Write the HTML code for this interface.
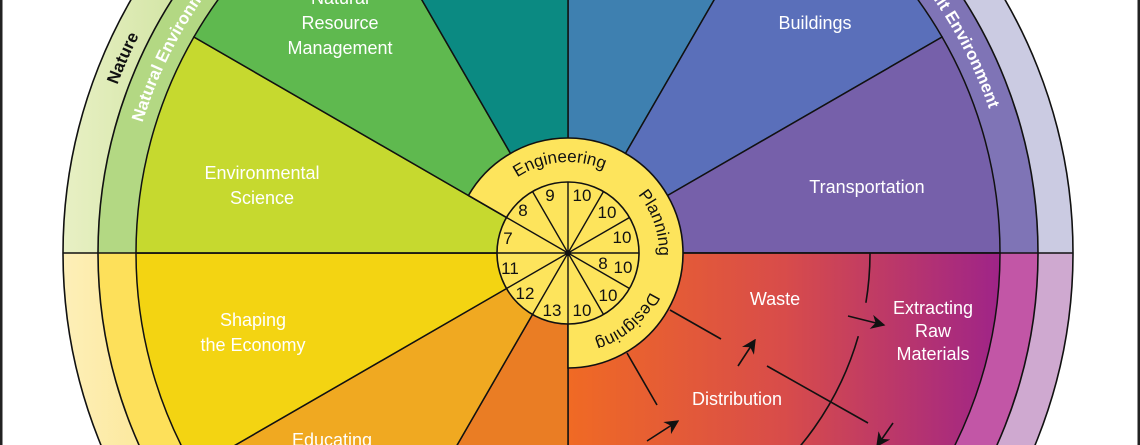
<!DOCTYPE html>
<html><head><meta charset="utf-8"><style>
html,body{margin:0;padding:0;background:#fff;width:1140px;height:445px;overflow:hidden;}
svg{display:block;}
.lbl{font-family:"Liberation Sans",Arial,sans-serif;font-size:18px;fill:#fff;text-anchor:middle;}
.num{font-family:"Liberation Sans",Arial,sans-serif;font-size:17px;fill:#111;text-anchor:middle;}
.cur{font-family:"Liberation Sans",Arial,sans-serif;font-size:17px;fill:#111;}
.ring{font-family:"Liberation Sans",Arial,sans-serif;font-size:17px;font-weight:bold;}
</style></head><body>
<svg width="1140" height="445" viewBox="0 0 1140 445" xmlns="http://www.w3.org/2000/svg">
<defs>
<linearGradient id="lr" x1="568" y1="0" x2="1000" y2="0" gradientUnits="userSpaceOnUse">
<stop offset="0" stop-color="#f06a24"/><stop offset="0.5" stop-color="#d84c4a"/><stop offset="1" stop-color="#9f2488"/>
</linearGradient>
<linearGradient id="r3ul" x1="63" y1="0" x2="200" y2="0" gradientUnits="userSpaceOnUse">
<stop offset="0" stop-color="#e8f0c4"/><stop offset="1" stop-color="#cfe3a0"/>
</linearGradient>
<linearGradient id="r3ll" x1="63" y1="0" x2="200" y2="0" gradientUnits="userSpaceOnUse">
<stop offset="0" stop-color="#fdefb8"/><stop offset="1" stop-color="#fce48a"/>
</linearGradient>
<marker id="ah" viewBox="0 0 10 10" refX="9" refY="5" markerWidth="9" markerHeight="9" orient="auto" markerUnits="strokeWidth">
<path d="M0,0 L10,5 L0,10 L3,5 Z" fill="#111"/>
</marker>
<path id="p445" d="M568,698 A445,445 0 0 1 568,-192 A445,445 0 0 1 568,698"/>
<path id="p481" d="M568,734 A481,481 0 0 1 568,-228 A481,481 0 0 1 568,734"/>
<path id="p91" d="M568,344 A91,91 0 0 1 568,162 A91,91 0 0 1 568,344"/>
</defs>
<rect width="1140" height="445" fill="#fff"/>
<path d="M568,253 L63,253 A505,505 0 0 1 568,-252 Z" fill="url(#r3ul)"/>
<path d="M568,253 L568,-252 A505,505 0 0 1 1073,253 Z" fill="#cbcbe2"/>
<path d="M568,253 L1073,253 A505,505 0 0 1 568,758 Z" fill="#cfa9d0"/>
<path d="M568,253 L568,758 A505,505 0 0 1 63,253 Z" fill="url(#r3ll)"/>
<path d="M568,253 L98,253 A470,470 0 0 1 568,-217 Z" fill="#b3d883"/>
<path d="M568,253 L568,-217 A470,470 0 0 1 1038,253 Z" fill="#7f74b6"/>
<path d="M568,253 L1038,253 A470,470 0 0 1 568,723 Z" fill="#c256a6"/>
<path d="M568,253 L568,723 A470,470 0 0 1 98,253 Z" fill="#fde05a"/>
<g stroke="#111" stroke-width="1.5">
<path d="M568,253 L568,-179 A432,432 0 0 1 784,-121.1 Z" fill="#3e80b0"/>
<path d="M568,253 L784,-121.1 A432,432 0 0 1 942.1,37 Z" fill="#5a6fba"/>
<path d="M568,253 L942.1,37 A432,432 0 0 1 1000,253 Z" fill="#7660aa"/>
<path d="M568,253 L1000,253 A432,432 0 0 1 568,685 Z" fill="url(#lr)"/>
<path d="M568,253 L568,685 A432,432 0 0 1 352,627.1 Z" fill="#ea7d24"/>
<path d="M568,253 L352,627.1 A432,432 0 0 1 193.9,469 Z" fill="#f0a921"/>
<path d="M568,253 L193.9,469 A432,432 0 0 1 136,253 Z" fill="#f3d412"/>
<path d="M568,253 L136,253 A432,432 0 0 1 193.9,37 Z" fill="#c6d92f"/>
<path d="M568,253 L193.9,37 A432,432 0 0 1 352,-121.1 Z" fill="#5fb94f"/>
<path d="M568,253 L352,-121.1 A432,432 0 0 1 568,-179 Z" fill="#0b8a82"/>
</g>
<g fill="none" stroke="#111" stroke-width="1.6">
<circle cx="568" cy="253" r="470"/>
<circle cx="568" cy="253" r="505"/>
<line x1="63" y1="253" x2="1073" y2="253"/>
</g>
<text class="ring" fill="#111" font-size="18"><textPath href="#p481" startOffset="954" text-anchor="middle">Nature</textPath></text>
<text class="ring" fill="#fff"><textPath href="#p445" startOffset="831">Natural Environment</textPath></text>
<text class="ring" fill="#fff"><textPath href="#p445" startOffset="1950" text-anchor="end">Built Environment</textPath></text>
<text class="lbl" x="340" y="4">Natural</text>
<text class="lbl" x="340" y="29">Resource</text>
<text class="lbl" x="340" y="54">Management</text>
<text class="lbl" x="815" y="29">Buildings</text>
<text class="lbl" x="262" y="179">Environmental</text>
<text class="lbl" x="262" y="204">Science</text>
<text class="lbl" x="867" y="193">Transportation</text>
<text class="lbl" x="253" y="326">Shaping</text>
<text class="lbl" x="253" y="351">the Economy</text>
<text class="lbl" x="332" y="446">Educating</text>
<text class="lbl" x="775" y="305">Waste</text>
<text class="lbl" x="933" y="314">Extracting</text>
<text class="lbl" x="933" y="337">Raw</text>
<text class="lbl" x="933" y="360">Materials</text>
<text class="lbl" x="737" y="405">Distribution</text>
<g fill="none" stroke="#111" stroke-width="1.6">
<path d="M870,253 A302,302 0 0 1 865.9,302.8"/>
<path d="M858.3,336.2 A302,302 0 0 1 741.2,500.4"/>
<line x1="670" y1="310" x2="721" y2="339"/>
<line x1="767" y1="366" x2="868" y2="423"/>
<line x1="627" y1="353" x2="657" y2="405"/>
<line x1="848" y1="316" x2="884" y2="325" marker-end="url(#ah)"/>
<line x1="738" y1="366" x2="755" y2="340" marker-end="url(#ah)"/>
<line x1="647" y1="441" x2="678" y2="421" marker-end="url(#ah)"/>
<line x1="893" y1="423" x2="877" y2="446" marker-end="url(#ah)"/>
</g>
<path d="M568,253 L468.4,195.5 A115,115 0 1 1 568,368 Z" fill="#fde45c" stroke="#111" stroke-width="1.6"/>
<circle cx="568" cy="253" r="71" fill="#fde45c" stroke="#111" stroke-width="1.6"/>
<g stroke="#111" stroke-width="1.4">
<line x1="568" y1="182" x2="568" y2="324"/>
<line x1="497" y1="253" x2="639" y2="253"/>
<line x1="603.5" y1="191.5" x2="532.5" y2="314.5"/>
<line x1="629.5" y1="217.5" x2="506.5" y2="288.5"/>
<line x1="629.5" y1="288.5" x2="506.5" y2="217.5"/>
<line x1="603.5" y1="314.5" x2="532.5" y2="191.5"/>
</g>
<circle cx="568" cy="253" r="3" fill="#111"/>
<text class="num" x="582" y="201">10</text>
<text class="num" x="607" y="218">10</text>
<text class="num" x="622" y="243">10</text>
<text class="num" x="603" y="269">8</text>
<text class="num" x="623" y="273">10</text>
<text class="num" x="608" y="301">10</text>
<text class="num" x="582" y="316">10</text>
<text class="num" x="552" y="316">13</text>
<text class="num" x="525" y="299">12</text>
<text class="num" x="510" y="274">11</text>
<text class="num" x="508" y="244">7</text>
<text class="num" x="523" y="216">8</text>
<text class="num" x="550" y="201">9</text>
<text class="cur"><textPath href="#p91" startOffset="277" text-anchor="middle">Engineering</textPath></text>
<text class="cur"><textPath href="#p91" startOffset="398" text-anchor="middle">Planning</textPath></text>
<text class="cur"><textPath href="#p91" startOffset="506" text-anchor="middle">Designing</textPath></text>
<rect x="0" y="0" width="2.5" height="445" fill="#222"/>
<rect x="1137.5" y="0" width="2.5" height="445" fill="#222"/>
</svg>
</body></html>
